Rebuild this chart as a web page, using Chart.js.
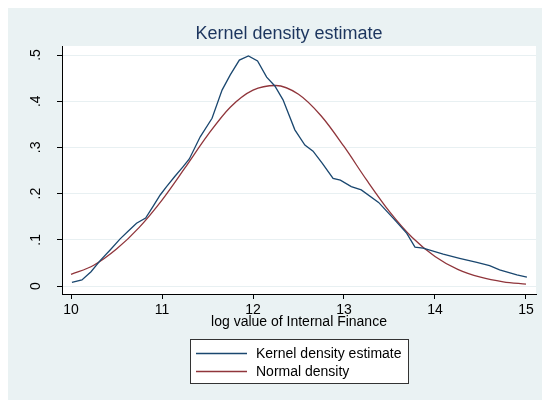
<!DOCTYPE html>
<html><head><meta charset="utf-8">
<script src="https://cdn.jsdelivr.net/npm/chart.js@4/dist/chart.umd.min.js"></script>
<style>html,body{margin:0;padding:0;background:#fff}canvas{display:block}</style>
</head><body>
<canvas id="c" width="542" height="400"></canvas>
<script>
const titleText = 'Kernel density estimate';
const xAxisTitle = 'log value of Internal Finance';
const seriesNames = ['Kernel density estimate', 'Normal density'];
const xTicks = [10, 11, 12, 13, 14, 15];
const yTicks = [0, 0.1, 0.2, 0.3, 0.4, 0.5];
const yTickLabels = ['0', '.1', '.2', '.3', '.4', '.5'];

const kdeX = [10.01,10.12,10.22,10.32,10.43,10.54,10.63,10.72,10.82,10.90,10.98,11.05,11.14,11.23,11.30,11.42,11.55,11.66,11.75,11.85,11.95,12.05,12.15,12.24,12.33,12.46,12.57,12.66,12.76,12.88,12.96,13.08,13.19,13.38,13.54,13.69,13.78,13.87,14.09,14.27,14.46,14.60,14.71,14.90,15.01];
const kdeY = [0.008,0.013,0.031,0.055,0.078,0.102,0.119,0.136,0.147,0.172,0.197,0.215,0.237,0.258,0.275,0.323,0.363,0.424,0.457,0.489,0.498,0.487,0.452,0.433,0.403,0.338,0.305,0.292,0.266,0.233,0.229,0.215,0.208,0.181,0.147,0.114,0.084,0.082,0.069,0.060,0.051,0.044,0.035,0.024,0.019];

const normX = [10.0,10.25,10.5,10.75,11.0,11.25,11.5,11.75,12.0,12.25,12.5,12.75,13.0,13.25,13.5,13.75,14.0,14.25,14.5,14.75,15.0];
const normY = [0.025,0.045,0.080,0.127,0.186,0.255,0.326,0.387,0.424,0.434,0.415,0.368,0.302,0.229,0.161,0.105,0.064,0.036,0.019,0.009,0.004];

const pts = (xs, ys) => xs.map((x, i) => ({x, y: ys[i]}));
const FONT = 'Liberation Sans, Arial, sans-serif';

const decor = {
  id: 'decor',
  beforeDraw(chart) {
    const {ctx, chartArea: a} = chart;
    ctx.save();
    ctx.fillStyle = '#ffffff';
    ctx.fillRect(0, 0, chart.width, chart.height);
    ctx.fillStyle = '#eaf2f3';
    ctx.fillRect(8, 8, chart.width - 8, chart.height - 8);
    ctx.fillStyle = '#ffffff';
    ctx.fillRect(a.left, a.top, a.right - a.left, a.bottom - a.top);
    ctx.restore();
  },
  afterDraw(chart) {
    const {ctx} = chart;
    ctx.save();
    ctx.fillStyle = '#1c355e';
    ctx.font = '18px ' + FONT;
    ctx.textAlign = 'center';
    ctx.textBaseline = 'alphabetic';
    ctx.fillText(titleText, 289, 39);
    // legend
    ctx.fillStyle = '#ffffff';
    ctx.fillRect(190, 339, 218, 44);
    ctx.strokeStyle = '#333333';
    ctx.lineWidth = 1;
    ctx.strokeRect(190.5, 339.5, 218, 44);
    const ys = [353, 371];
    chart.data.datasets.forEach((ds, i) => {
      ctx.strokeStyle = ds.borderColor;
      ctx.lineWidth = 1.3;
      ctx.beginPath();
      ctx.moveTo(196, ys[i] + 0.5);
      ctx.lineTo(247, ys[i] + 0.5);
      ctx.stroke();
      ctx.fillStyle = '#000000';
      ctx.font = '14px ' + FONT;
      ctx.textAlign = 'left';
      ctx.textBaseline = 'middle';
      ctx.fillText(ds.label, 256, ys[i] + 1);
    });
    ctx.restore();
  }
};

new Chart(document.getElementById('c'), {
  type: 'scatter',
  data: {
    datasets: [
      {label: seriesNames[0], data: pts(kdeX, kdeY), showLine: true, borderColor: '#1a476f', borderWidth: 1.3, pointRadius: 0, tension: 0},
      {label: seriesNames[1], data: pts(normX, normY), showLine: true, borderColor: '#90353b', borderWidth: 1.3, pointRadius: 0, cubicInterpolationMode: 'monotone'}
    ]
  },
  options: {
    responsive: false,
    devicePixelRatio: 1,
    animation: false,
    layout: {padding: {left: 8, right: 6, top: 46, bottom: 0}},
    plugins: {legend: {display: false}, title: {display: false}, tooltip: {enabled: false}},
    scales: {
      x: {
        type: 'linear', min: 9.901, max: 15.110,
        afterBuildTicks: s => { s.ticks = xTicks.map(v => ({value: v})); },
        afterFit: s => { s.height = 106; },
        grid: {drawOnChartArea: false, drawTicks: true, tickLength: 5, tickColor: '#000'},
        border: {display: true, color: '#000', width: 1},
        ticks: {color: '#000', font: {family: FONT, size: 14}, padding: 3, maxRotation: 0, callback: v => String(v)},
        title: {display: true, text: xAxisTitle, color: '#000', font: {family: FONT, size: 14}, padding: {top: 0, bottom: 69}}
      },
      y: {
        type: 'linear', min: -0.0173, max: 0.5195,
        afterBuildTicks: s => { s.ticks = yTicks.map(v => ({value: v})); },
        afterFit: s => { s.width = 54; },
        grid: {color: '#e8f0f2', lineWidth: 1, drawTicks: true, tickLength: 5, tickColor: '#000'},
        border: {display: true, color: '#000', width: 1},
        ticks: {color: '#000', font: {family: FONT, size: 14}, padding: 15, minRotation: 90, maxRotation: 90, crossAlign: 'center',
          callback: v => { const i = yTicks.findIndex(t => Math.abs(t - v) < 1e-9); return i >= 0 ? yTickLabels[i] : ''; }}
      }
    }
  },
  plugins: [decor]
});
</script>
</body></html>
